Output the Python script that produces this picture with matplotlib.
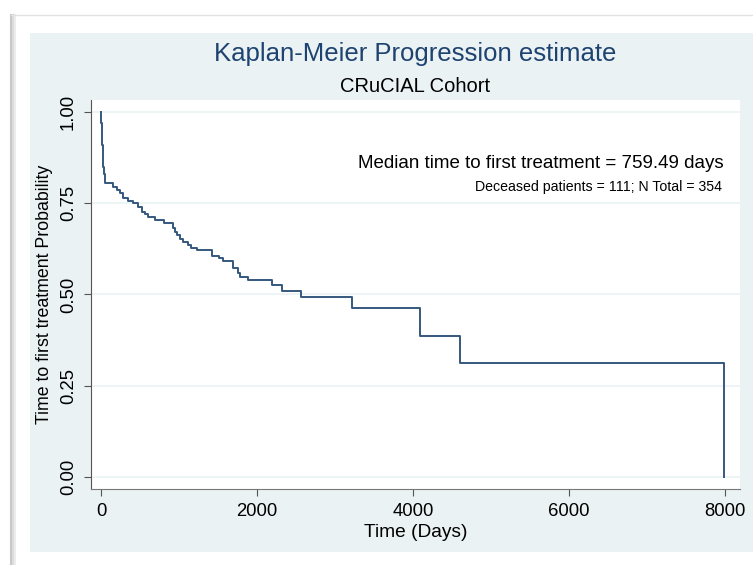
import matplotlib.pyplot as plt
from matplotlib.patches import Rectangle

plt.rcParams['font.family'] = ['Liberation Sans', 'DejaVu Sans']

# Kaplan-Meier steps (days, survival after the step)
days = [0, 5, 10, 15, 22, 30, 40, 55, 150, 200, 243, 286, 350, 414, 478, 521,
        560, 603, 692, 808, 927, 949, 979, 1013, 1047, 1120, 1150, 1235, 1419,
        1517, 1568, 1697, 1761, 1782, 1889, 2188, 2316, 2564, 3218, 4090, 4600,
        7990]
surv = [1.0, 0.97, 0.94, 0.91, 0.88, 0.85, 0.83, 0.805, 0.795, 0.786, 0.777,
        0.764, 0.757, 0.750, 0.740, 0.726, 0.720, 0.712, 0.704, 0.695, 0.681,
        0.672, 0.663, 0.651, 0.645, 0.637, 0.628, 0.622, 0.605, 0.599, 0.592,
        0.572, 0.560, 0.549, 0.540, 0.526, 0.510, 0.493, 0.463, 0.386, 0.312,
        0.0]
xticks = [0, 2000, 4000, 6000, 8000]
yticks = [0, 0.25, 0.5, 0.75, 1.0]

W, H = 753, 565
fig = plt.figure(figsize=(W / 100, H / 100), dpi=100)
fig.patch.set_facecolor('white')

# outer frame with a little shadow, then the light blue graph region
for off, c in [(0, '#c8c8c8'), (2, '#dcdcdc'), (4, '#ececec')]:
    fig.add_artist(plt.Line2D([(11 + off) / W, (11 + off) / W], [0, 1 - 15 / H],
                              color=c, lw=1.5, transform=fig.transFigure))
fig.add_artist(plt.Line2D([11 / W, 1], [1 - 15 / H, 1 - 15 / H], color='#e2e2e2',
                          lw=1, transform=fig.transFigure))
fig.add_artist(Rectangle((30 / W, 1 - 552 / H), (W - 30) / W, (552 - 33) / H,
                         facecolor='#eaf2f3', edgecolor='none',
                         transform=fig.transFigure, zorder=0))

ax = fig.add_axes([91 / W, 1 - 489 / H, (740 - 91) / W, (489 - 100) / H])
ax.set_facecolor('white')
ax.step(days, surv, where='post', color='#34587d', lw=1.4, zorder=3)

ax.set_xlim(-128, 8192)
ax.set_ylim(-0.033, 1.033)
ax.set_xticks(xticks)
ax.set_yticks(yticks)
ax.set_yticklabels(['%.2f' % v for v in yticks], rotation=90, va='center')
ax.yaxis.grid(True, color='#eaf2f3', lw=1.2)
ax.set_axisbelow(True)
for s in ['top', 'right']:
    ax.spines[s].set_visible(False)
ax.spines['left'].set_color('#555555')
ax.spines['bottom'].set_color('#777777')
ax.tick_params(axis='both', colors='#555555', labelcolor='black', length=5,
               labelsize=13.3, pad=5)

ax.set_xlabel('Time (Days)', fontsize=13.8, labelpad=3)
ax.set_ylabel('Time to first treatment Probability', fontsize=12.8, labelpad=5)

fig.text(0.551, 1 - 54 / H, 'Kaplan-Meier Progression estimate', ha='center',
         va='center', fontsize=18.5, color='#1f4370')
fig.text(0.551, 1 - 86 / H, 'CRuCIAL Cohort', ha='center', va='center',
         fontsize=14.5)

ax.text(7987, 0.86, 'Median time to first treatment = 759.49 days', ha='right',
        va='center', fontsize=13.5)
ax.text(7962, 0.795, 'Deceased patients = 111; N Total = 354', ha='right',
        va='center', fontsize=10.2)

fig.savefig('out.png', dpi=100)
